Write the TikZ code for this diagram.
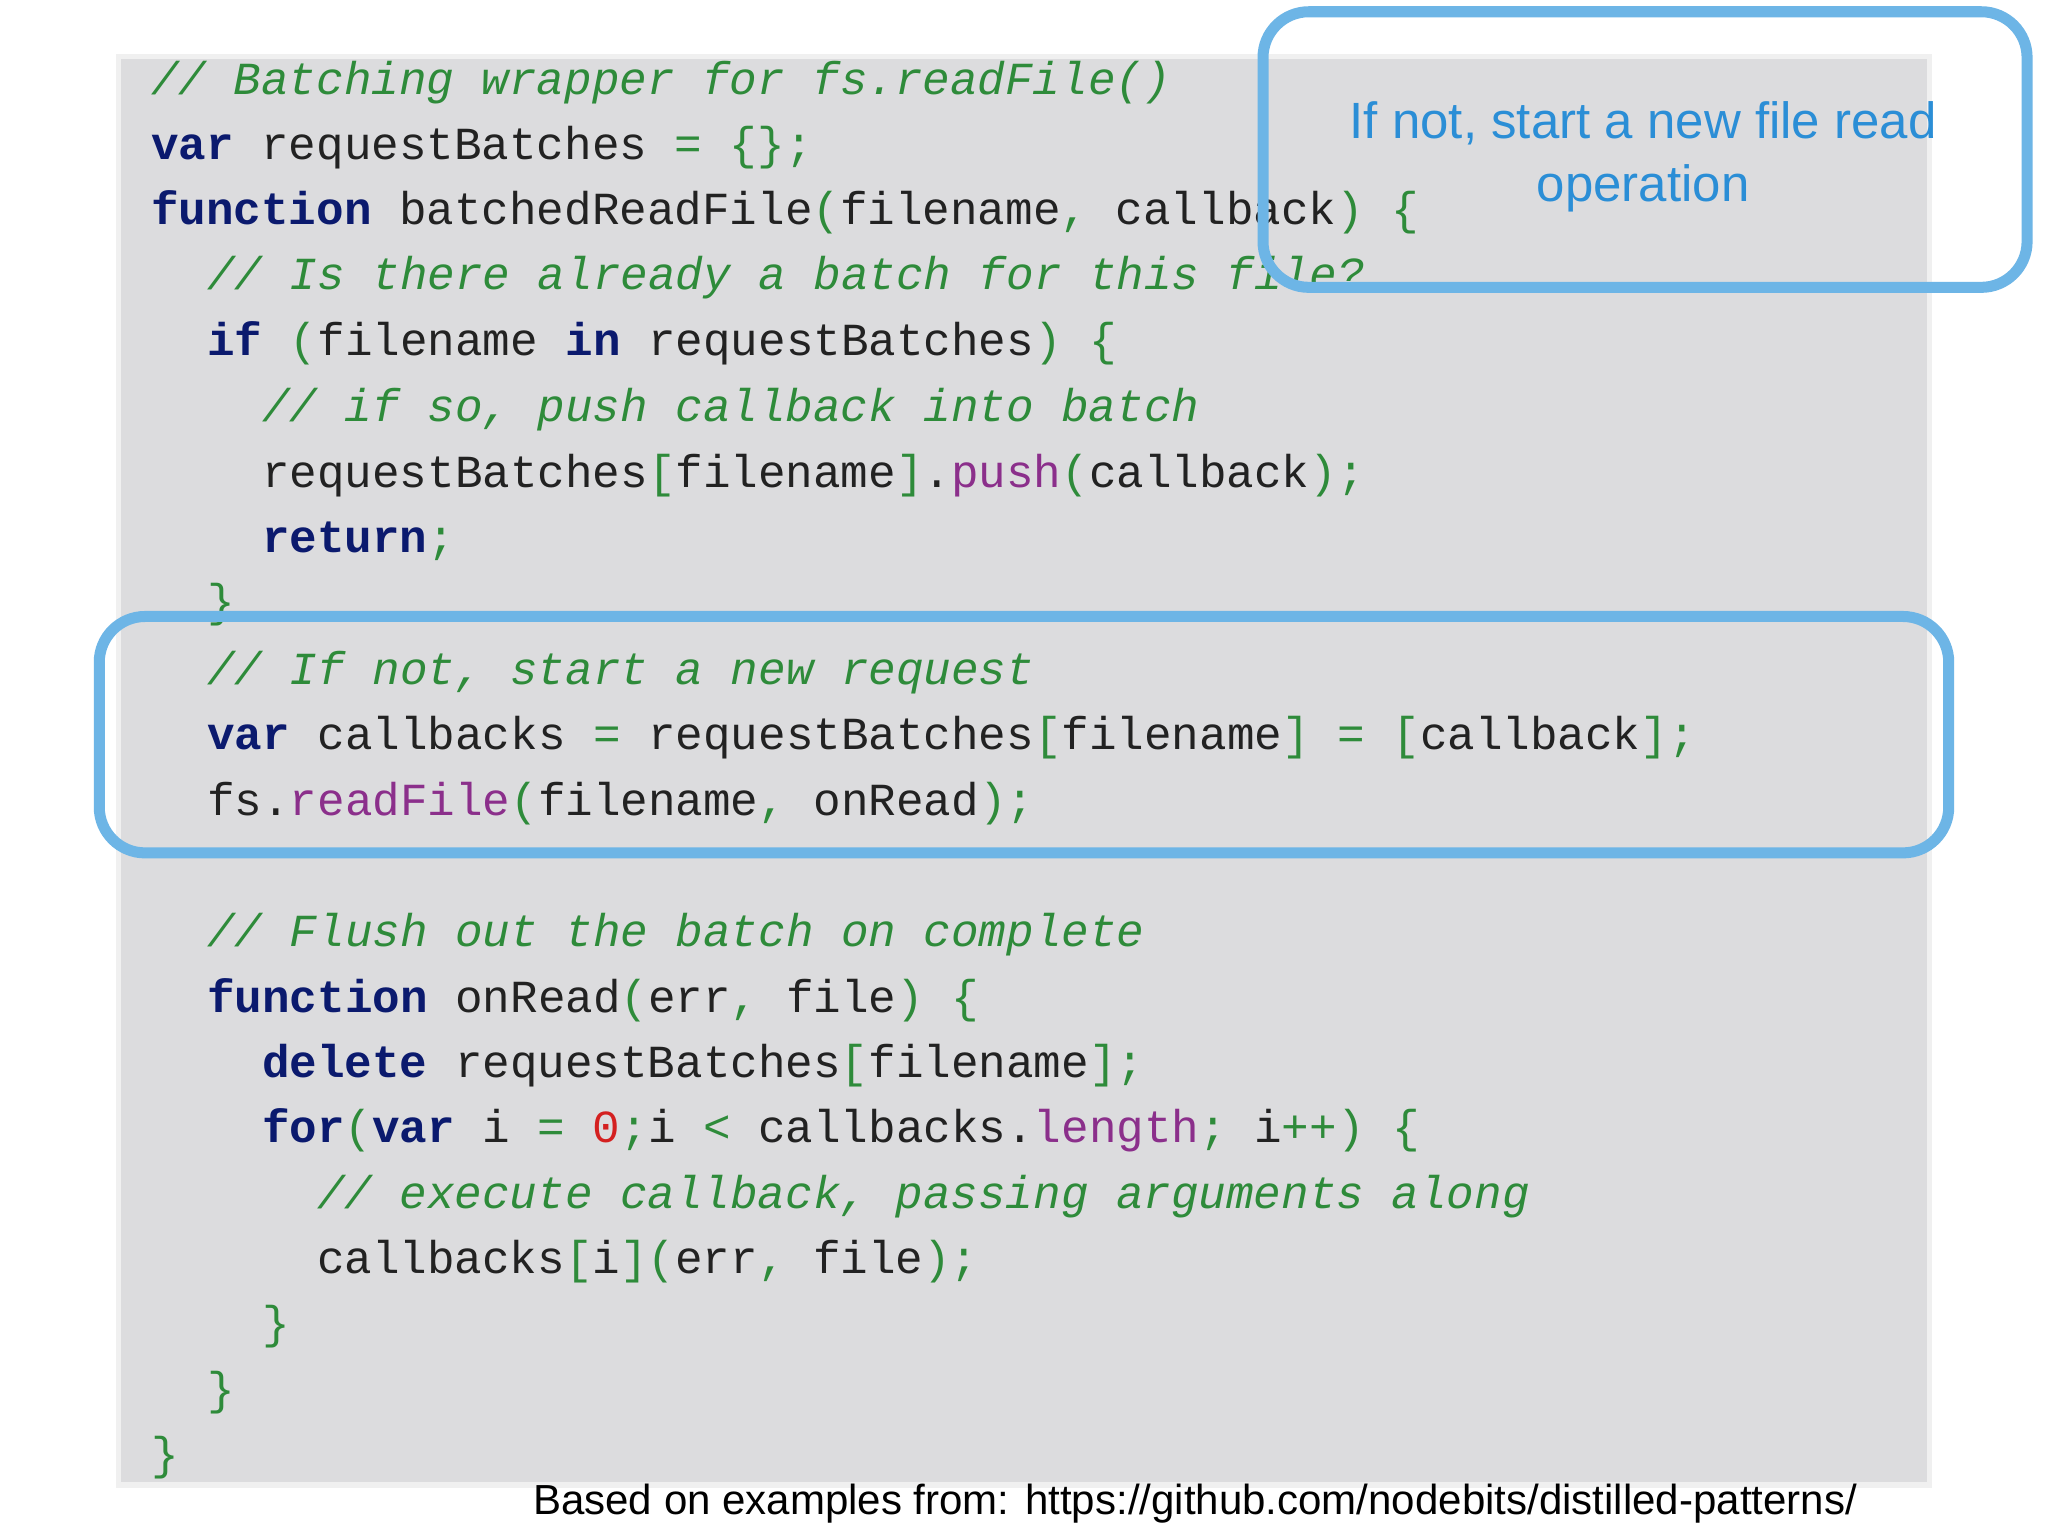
\documentclass[tikz,border=0pt]{standalone}
\usepackage{fontspec}
\usepackage{xcolor}
\newfontfamily\codefont{Liberation Mono}[WordSpace={1,0,0}]
\newfontfamily\sansf{Liberation Sans}
\definecolor{cmt}{HTML}{2E8B3A}
\definecolor{kwc}{HTML}{0B1A6E}
\definecolor{mtc}{HTML}{8B2F8B}
\definecolor{nmc}{HTML}{D42020}
\definecolor{txc}{HTML}{222222}
\definecolor{bluebox}{HTML}{6DB5E6}
\definecolor{bluetext}{HTML}{2B8ED6}
\definecolor{panel}{HTML}{DCDCDE}
\newcommand\cm[1]{\textcolor{cmt}{\itshape #1}}
\newcommand\kw[1]{\textcolor{kwc}{\bfseries #1}}
\newcommand\pp[1]{\textcolor{cmt}{#1}}
\newcommand\mt[1]{\textcolor{mtc}{#1}}
\newcommand\nm[1]{\textcolor{nmc}{#1}}
\begin{document}
\begin{tikzpicture}[x=0.01cm,y=-0.01cm,
  codeline/.style={anchor=base west,inner sep=0pt,font=\codefont\fontsize{10pt}{12pt}\selectfont,text=txc},
  callout/.style={draw=bluebox,line width=2.4pt,rounded corners=0.35cm}]
\useasboundingbox (0,0) rectangle (1568,1176);
\fill[white] (0,0) rectangle (1568,1176);
\fill[gray!12] (89,41) rectangle (1479,1139);
\fill[panel] (93,45) rectangle (1475,1135);
\node[codeline] (l1) at (115,72) {\cm{// Batching wrapper for fs.readFile()}};
\node[codeline] (l2) at (115,122) {\kw{var} requestBatches \pp{= \{\};}};
\node[codeline] (l3) at (115,172) {\kw{function} batchedReadFile\pp{(}filename\pp{,} callback\pp{)} \pp{\{}};
\node[codeline] (l4) at (158,222) {\cm{// Is there already a batch for this file?}};
\node[codeline] (l5) at (158,272) {\kw{if} \pp{(}filename \kw{in} requestBatches\pp{)} \pp{\{}};
\node[codeline] (l6) at (200,323) {\cm{// if so, push callback into batch}};
\node[codeline] (l7) at (200,373) {requestBatches\pp{[}filename\pp{]}.\mt{push}\pp{(}callback\pp{);}};
\node[codeline] (l8) at (200,423) {\kw{return}\pp{;}};
\node[codeline] (l9) at (158,472) {\pp{\}}};
\node[codeline] (l10) at (158,524) {\cm{// If not, start a new request}};
\node[codeline] (l11) at (158,574) {\kw{var} callbacks \pp{=} requestBatches\pp{[}filename\pp{]} \pp{=} \pp{[}callback\pp{];}};
\node[codeline] (l12) at (158,624) {fs.\mt{readFile}\pp{(}filename\pp{,} onRead\pp{);}};
\node[codeline] (l13) at (158,725) {\cm{// Flush out the batch on complete}};
\node[codeline] (l14) at (158,775) {\kw{function} onRead\pp{(}err\pp{,} file\pp{)} \pp{\{}};
\node[codeline] (l15) at (200,825) {\kw{delete} requestBatches\pp{[}filename\pp{];}};
\node[codeline] (l16) at (200,875) {\kw{for}\pp{(}\kw{var} i \pp{=} \nm{0}\pp{;}i \pp{<} callbacks.\mt{length}\pp{;} i\pp{++)} \pp{\{}};
\node[codeline] (l17) at (242,925) {\cm{// execute callback, passing arguments along}};
\node[codeline] (l18) at (242,975) {callbacks\pp{[}i\pp{](}err\pp{,} file\pp{);}};
\node[codeline] (l19) at (200,1025) {\pp{\}}};
\node[codeline] (l20) at (158,1075) {\pp{\}}};
\node[codeline] (l21) at (115,1125) {\pp{\}}};
\draw[callout] (76,472) rectangle (1492,653);
\draw[callout] (967,9) rectangle (1552,220);
\node[align=center,text=bluetext,font=\sansf\fontsize{11.1pt}{13.6pt}\selectfont] (note) at (1258,120) {If not, start a new file read\\operation};
\node[font=\sansf\fontsize{9.15pt}{11pt}\selectfont,text=black,inner sep=0pt] (src) at (915,1151) {Based on examples from: https://github.com/nodebits/distilled-patterns/};
\end{tikzpicture}
\end{document}
